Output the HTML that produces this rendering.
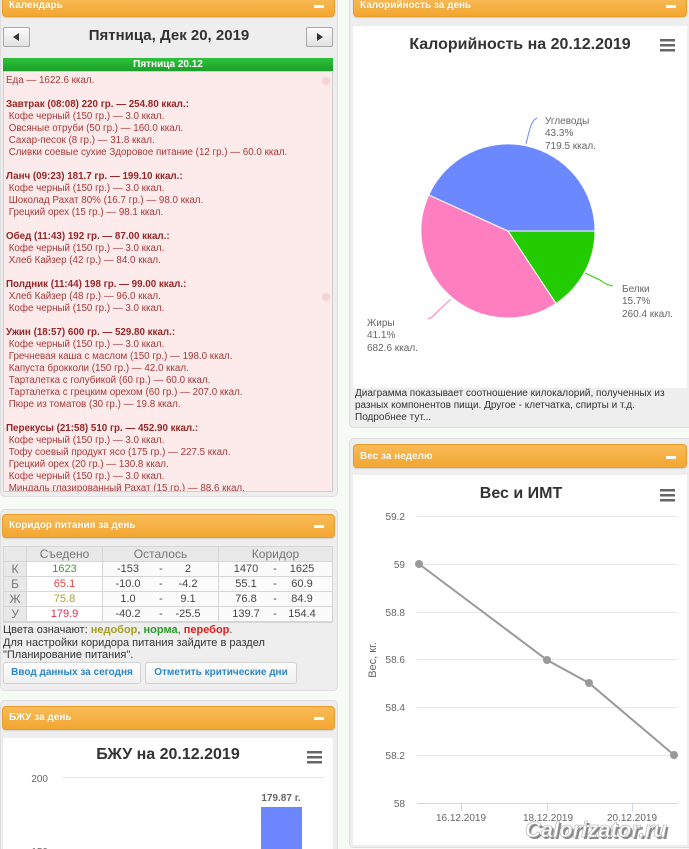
<!DOCTYPE html>
<html><head><meta charset="utf-8">
<style>
*{margin:0;padding:0;box-sizing:border-box}
html,body{width:689px;height:849px;overflow:hidden;background:#f6fbf6;font-family:"Liberation Sans",Arial,sans-serif;position:relative}
.panel{position:absolute;background:#eeeeee;border:1px solid #dedede;border-radius:5px}
.hdr{position:absolute;background:linear-gradient(#f8bc58,#f3a631);border:1px solid #ea9c28;border-radius:4px;color:#fff;font-weight:bold;font-size:10px;box-shadow:0 1px 1px rgba(0,0,0,.12)}
.hdr span{position:absolute;left:6px;line-height:12px;text-shadow:0 0 1px rgba(160,90,0,.35)}
.hdr i{position:absolute;right:10px;width:10px;height:3px;background:#fff}
.t{position:absolute;white-space:nowrap}
.white{position:absolute;background:#fff}
.btn{position:absolute;background:linear-gradient(#fdfdfd,#f0f0f0);border:1px solid #d2d2d2;border-radius:3px;color:#2f86c4;font-weight:bold;font-size:10px;text-align:center;line-height:20px}
.nav{position:absolute;background:linear-gradient(#fbfbfb,#e2e2e2);border:1px solid #a8a8a8;border-radius:2px}
.c{position:absolute;height:14px;font-size:11px;line-height:14px;text-align:center}
.h{color:#777;font-size:12px}
.n{position:absolute;width:40px;margin-left:-20px;text-align:center;top:0;line-height:14px;color:#444;font-size:11px}
.menu{position:absolute;left:6px;top:75px;width:322px;height:416px;overflow:hidden;font-size:9.8px;line-height:12px;color:#a53a3a;white-space:pre}
.menu b{color:#982626}
</style></head><body>

<!-- LEFT: Calendar panel -->
<div class="panel" style="left:0;top:-6px;width:338px;height:503px"></div>
<div class="hdr" style="left:2px;top:-4px;width:333px;height:21px"><span style="top:3px">Календарь</span><i style="top:8px"></i></div>
<div class="nav" style="left:3px;top:27px;width:27px;height:20px"><div style="position:absolute;left:9px;top:5px;width:0;height:0;border-top:4px solid transparent;border-bottom:4px solid transparent;border-right:6px solid #333"></div></div>
<div class="nav" style="left:306px;top:27px;width:27px;height:20px"><div style="position:absolute;left:10px;top:5px;width:0;height:0;border-top:4px solid transparent;border-bottom:4px solid transparent;border-left:6px solid #333"></div></div>
<div class="t" style="left:0;width:338px;text-align:center;top:27px;font-size:15px;font-weight:bold;line-height:18px;color:#333">Пятница, Дек 20, 2019</div>
<div class="t" style="left:3px;top:58px;width:330px;height:14px;background:linear-gradient(#2ec23a,#1a9d28);color:#fff;font-weight:bold;font-size:10px;text-align:center;line-height:14px">Пятница 20.12</div>
<div style="position:absolute;left:3px;top:71px;width:330px;height:421px;background:#fdeaea;border:1px solid #cfcfcf"></div>
<div style="position:absolute;left:322px;top:77px;width:8px;height:8px;border-radius:50%;background:#f6d2d2"></div>
<div style="position:absolute;left:322px;top:293px;width:8px;height:8px;border-radius:50%;background:#f6d2d2"></div>
<div class="menu">Еда — 1622.6 ккал.

<b>Завтрак (08:08) 220 гр. — 254.80 ккал.:</b>
 Кофе черный (150 гр.) — 3.0 ккал.
 Овсяные отруби (50 гр.) — 160.0 ккал.
 Сахар-песок (8 гр.) — 31.8 ккал.
 Сливки соевые сухие Здоровое питание (12 гр.) — 60.0 ккал.

<b>Ланч (09:23) 181.7 гр. — 199.10 ккал.:</b>
 Кофе черный (150 гр.) — 3.0 ккал.
 Шоколад Рахат 80% (16.7 гр.) — 98.0 ккал.
 Грецкий орех (15 гр.) — 98.1 ккал.

<b>Обед (11:43) 192 гр. — 87.00 ккал.:</b>
 Кофе черный (150 гр.) — 3.0 ккал.
 Хлеб Кайзер (42 гр.) — 84.0 ккал.

<b>Полдник (11:44) 198 гр. — 99.00 ккал.:</b>
 Хлеб Кайзер (48 гр.) — 96.0 ккал.
 Кофе черный (150 гр.) — 3.0 ккал.

<b>Ужин (18:57) 600 гр. — 529.80 ккал.:</b>
 Кофе черный (150 гр.) — 3.0 ккал.
 Гречневая каша с маслом (150 гр.) — 198.0 ккал.
 Капуста брокколи (150 гр.) — 42.0 ккал.
 Тарталетка с голубикой (60 гр.) — 60.0 ккал.
 Тарталетка с грецким орехом (60 гр.) — 207.0 ккал.
 Пюре из томатов (30 гр.) — 19.8 ккал.

<b>Перекусы (21:58) 510 гр. — 452.90 ккал.:</b>
 Кофе черный (150 гр.) — 3.0 ккал.
 Тофу соевый продукт ясо (175 гр.) — 227.5 ккал.
 Грецкий орех (20 гр.) — 130.8 ккал.
 Кофе черный (150 гр.) — 3.0 ккал.
 Миндаль глазированный Рахат (15 гр.) — 88.6 ккал.</div>

<!-- LEFT: Corridor panel -->
<div class="panel" style="left:0;top:509px;width:338px;height:182px"></div>
<div class="hdr" style="left:2px;top:514px;width:333px;height:24px"><span style="top:5px">Коридор питания за день</span><i style="top:10px"></i></div>
<div style="position:absolute;left:3px;top:546px;width:330px;height:77px;background:#d6d6d6"></div>
<div class="c" style="left:4px;top:547px;width:22px;background:#e8e8e8"></div>
<div class="c h" style="left:27px;top:547px;width:75px;background:#e8e8e8">Съедено</div>
<div class="c h" style="left:103px;top:547px;width:115px;background:#e8e8e8">Осталось</div>
<div class="c h" style="left:219px;top:547px;width:113px;background:#e8e8e8">Коридор</div>

<div class="c h" style="left:4px;top:562px;width:22px;background:#e8e8e8">К</div>
<div class="c" style="left:27px;top:562px;width:75px;background:#fff;color:#3a9e3a">1623</div>
<div class="c" style="left:103px;top:562px;width:115px;background:#fbfbfb"><span class="n" style="left:25px">-153</span><span class="n" style="left:58px">-</span><span class="n" style="left:85px">2</span></div>
<div class="c" style="left:219px;top:562px;width:113px;background:#fbfbfb"><span class="n" style="left:27px">1470</span><span class="n" style="left:56px">-</span><span class="n" style="left:83px">1625</span></div>

<div class="c h" style="left:4px;top:577px;width:22px;background:#e8e8e8">Б</div>
<div class="c" style="left:27px;top:577px;width:75px;background:#fff;color:#e04545">65.1</div>
<div class="c" style="left:103px;top:577px;width:115px;background:#fbfbfb"><span class="n" style="left:25px">-10.0</span><span class="n" style="left:58px">-</span><span class="n" style="left:85px">-4.2</span></div>
<div class="c" style="left:219px;top:577px;width:113px;background:#fbfbfb"><span class="n" style="left:27px">55.1</span><span class="n" style="left:56px">-</span><span class="n" style="left:83px">60.9</span></div>

<div class="c h" style="left:4px;top:592px;width:22px;background:#e8e8e8">Ж</div>
<div class="c" style="left:27px;top:592px;width:75px;background:#fff;color:#a8a430">75.8</div>
<div class="c" style="left:103px;top:592px;width:115px;background:#fbfbfb"><span class="n" style="left:25px">1.0</span><span class="n" style="left:58px">-</span><span class="n" style="left:85px">9.1</span></div>
<div class="c" style="left:219px;top:592px;width:113px;background:#fbfbfb"><span class="n" style="left:27px">76.8</span><span class="n" style="left:56px">-</span><span class="n" style="left:83px">84.9</span></div>

<div class="c h" style="left:4px;top:607px;width:22px;background:#e8e8e8">У</div>
<div class="c" style="left:27px;top:607px;width:75px;background:#fff;color:#e0304a">179.9</div>
<div class="c" style="left:103px;top:607px;width:115px;background:#fbfbfb"><span class="n" style="left:25px">-40.2</span><span class="n" style="left:58px">-</span><span class="n" style="left:85px">-25.5</span></div>
<div class="c" style="left:219px;top:607px;width:113px;background:#fbfbfb"><span class="n" style="left:27px">139.7</span><span class="n" style="left:56px">-</span><span class="n" style="left:83px">154.4</span></div>

<div class="t" style="left:3px;top:624px;font-size:11px;line-height:12.5px;color:#333">Цвета означают: <b style="color:#a5a020">недобор</b>, <b style="color:#2a9a2a">норма</b>, <b style="color:#e02020">перебор</b>.<br>Для настройки коридора питания зайдите в раздел<br>"Планирование питания".</div>
<div class="btn" style="left:3px;top:662px;width:138px;height:22px">Ввод данных за сегодня</div>
<div class="btn" style="left:145px;top:662px;width:152px;height:22px">Отметить критические дни</div>

<!-- LEFT: BJU panel -->
<div class="panel" style="left:0;top:700px;width:338px;height:160px"></div>
<div class="hdr" style="left:2px;top:706px;width:333px;height:24px"><span style="top:5px">БЖУ за день</span><i style="top:10px"></i></div>
<div class="white" style="left:3px;top:738px;width:330px;height:120px"></div>

<!-- RIGHT: Calorie panel -->
<div class="panel" style="left:349px;top:-6px;width:345px;height:434px"></div>
<div class="hdr" style="left:353px;top:-4px;width:334px;height:21px"><span style="top:3px">Калорийность за день</span><i style="top:8px"></i></div>
<div class="white" style="left:353px;top:26px;width:334px;height:362px"></div>
<div class="t" style="left:355px;top:388px;font-size:10px;line-height:12px;color:#333">Диаграмма показывает соотношение килокалорий, полученных из<br>разных компонентов пищи. Другое - клетчатка, спирты и т.д.<br>Подробнее тут...</div>

<!-- RIGHT: Weight panel -->
<div class="panel" style="left:349px;top:438px;width:345px;height:410px"></div>
<div class="hdr" style="left:353px;top:444px;width:334px;height:24px"><span style="top:6px">Вес за неделю</span><i style="top:11px"></i></div>
<div class="white" style="left:353px;top:475px;width:334px;height:370px"></div>

<svg style="position:absolute;left:0;top:0" width="689" height="849" viewBox="0 0 689 849" font-family="Liberation Sans, Arial, sans-serif">
  <text x="520" y="49" text-anchor="middle" font-size="16" font-weight="bold" fill="#333">Калорийность на 20.12.2019</text>
  <g fill="#666"><rect x="660" y="39" width="15" height="2.5"/><rect x="660" y="44" width="15" height="2.5"/><rect x="660" y="49" width="15" height="2.5"/></g>
  <path d="M508 231 L595 231 A87 87 0 0 1 556 303.5 Z" fill="#22cc00" stroke="#fff" stroke-width="1"/>
  <path d="M508 231 L556 303.5 A87 87 0 0 1 428.8 194.9 Z" fill="#ff7ec0" stroke="#fff" stroke-width="1"/>
  <path d="M508 231 L428.8 194.9 A87 87 0 0 1 595 231 Z" fill="#6b88ff" stroke="#fff" stroke-width="1"/>
  <path d="M526 144 C529 132 531 120 537 118" fill="none" stroke="#6b88ff" stroke-width="1"/>
  <path d="M585 273 L600 280 Q606 285 613 286" fill="none" stroke="#22cc00" stroke-width="1"/>
  <path d="M451 299 L437 312 Q432 318 428 319" fill="none" stroke="#ff7ec0" stroke-width="1"/>
  <g font-size="10" fill="#666">
    <text x="545" y="124">Углеводы</text><text x="545" y="136">43.3%</text><text x="545" y="149">719.5 ккал.</text>
    <text x="622" y="292">Белки</text><text x="622" y="304">15.7%</text><text x="622" y="317">260.4 ккал.</text>
    <text x="367" y="326">Жиры</text><text x="367" y="338">41.1%</text><text x="367" y="351">682.6 ккал.</text>
  </g>

  <text x="521" y="498" text-anchor="middle" font-size="16" font-weight="bold" fill="#333">Вес и ИМТ</text>
  <g fill="#666"><rect x="660" y="489" width="15" height="2.5"/><rect x="660" y="494" width="15" height="2.5"/><rect x="660" y="499" width="15" height="2.5"/></g>
  <g stroke="#e8e8e8" stroke-width="1">
    <line x1="417" y1="516.5" x2="678" y2="516.5"/>
    <line x1="417" y1="564.5" x2="678" y2="564.5"/>
    <line x1="417" y1="612.5" x2="678" y2="612.5"/>
    <line x1="417" y1="659.5" x2="678" y2="659.5"/>
    <line x1="417" y1="707.5" x2="678" y2="707.5"/>
    <line x1="417" y1="755.5" x2="678" y2="755.5"/>
  </g>
  <line x1="417" y1="803.5" x2="678" y2="803.5" stroke="#ccd6eb" stroke-width="1"/>
  <g stroke="#ccd6eb" stroke-width="1">
    <line x1="461.5" y1="803" x2="461.5" y2="811"/>
    <line x1="547.5" y1="803" x2="547.5" y2="811"/>
    <line x1="632.5" y1="803" x2="632.5" y2="811"/>
  </g>
  <g font-size="10" fill="#666" text-anchor="end">
    <text x="405" y="520">59.2</text>
    <text x="405" y="568">59</text>
    <text x="405" y="616">58.8</text>
    <text x="405" y="663">58.6</text>
    <text x="405" y="711">58.4</text>
    <text x="405" y="759">58.2</text>
    <text x="405" y="807">58</text>
  </g>
  <g font-size="10" fill="#666" text-anchor="middle">
    <text x="461" y="821">16.12.2019</text>
    <text x="548" y="821">18.12.2019</text>
    <text x="632" y="821">20.12.2019</text>
  </g>
  <text transform="translate(376 660) rotate(-90)" text-anchor="middle" font-size="11" fill="#666">Вес, кг.</text>
  <polyline points="419,564 547,660 589,683 674,755" fill="none" stroke="#999" stroke-width="2"/>
  <g fill="#999"><circle cx="419" cy="564" r="4"/><circle cx="547" cy="660" r="4"/><circle cx="589" cy="683" r="4"/><circle cx="674" cy="755" r="4"/></g>
  <text x="527" y="839" font-size="22" font-weight="bold" font-style="italic" fill="#8a8a8a">Calorizator.ru</text>
  <text x="525" y="837" font-size="22" font-weight="bold" font-style="italic" fill="#fff" stroke="#aaa" stroke-width="0.6">Calorizator.ru</text>

  <text x="168" y="759" text-anchor="middle" font-size="16" font-weight="bold" fill="#333">БЖУ на 20.12.2019</text>
  <g fill="#666"><rect x="307" y="751" width="15" height="2.5"/><rect x="307" y="756" width="15" height="2.5"/><rect x="307" y="761" width="15" height="2.5"/></g>
  <line x1="62" y1="777.5" x2="325" y2="777.5" stroke="#e8e8e8" stroke-width="1"/>
  <text x="48" y="782" text-anchor="end" font-size="10" fill="#666">200</text>
  <text x="48" y="855" text-anchor="end" font-size="10" fill="#666">150</text>
  <rect x="261" y="807" width="41" height="50" fill="#6b86ff"/>
  <text x="281" y="801" text-anchor="middle" font-size="10" font-weight="bold" fill="#666">179.87 г.</text>
</svg>
</body></html>
